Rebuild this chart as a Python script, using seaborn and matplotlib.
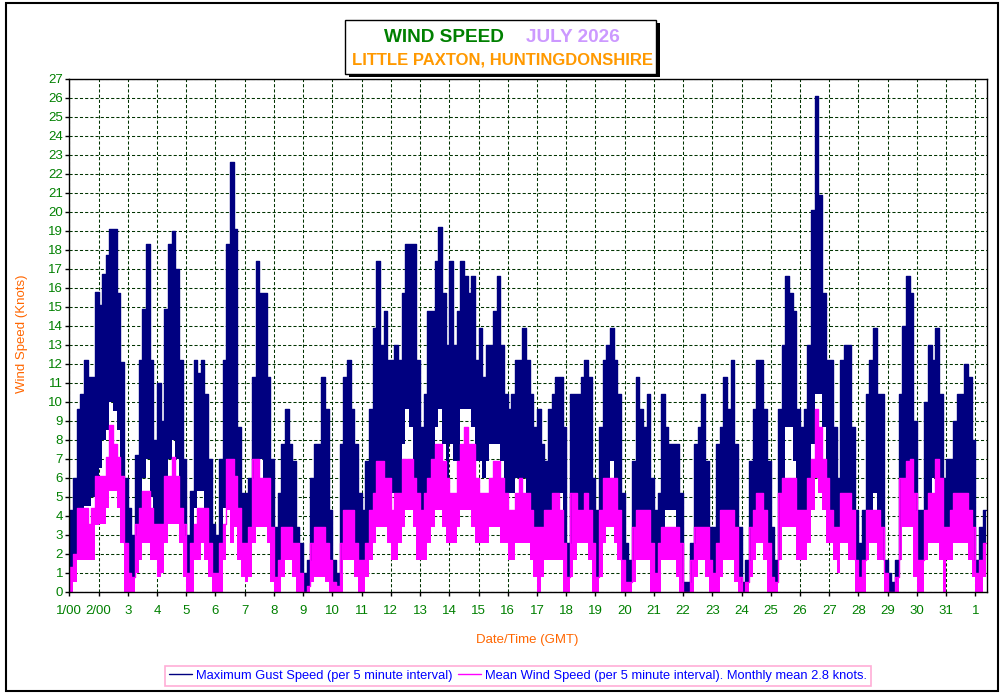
import numpy as np
import pandas as pd
import seaborn as sns
import matplotlib.pyplot as plt
from matplotlib.patches import Rectangle

# 3-hourly envelopes (8 per day, 1 July 00:00 -> 1 Aug 09:00), knots
gust_hi = [
    4.3, 6.0, 9.6, 10.4, 12.2, 11.3, 11.3, 15.8,
    15.1, 16.7, 17.7, 19.1, 19.1, 15.7, 12.1, 6.0,
    4.4, 3.0, 7.2, 12.2, 14.9, 18.3, 12.2, 8.0,
    11.0, 9.0, 14.9, 18.3, 19.0, 17.0, 12.2, 7.0,
    3.0, 5.3, 12.2, 11.5, 12.2, 10.4, 7.0, 3.6,
    3.0, 7.0, 12.2, 18.3, 22.6, 19.1, 8.7, 5.2,
    5.2, 6.0, 11.3, 17.4, 15.7, 15.7, 11.3, 7.0,
    3.4, 5.2, 7.8, 9.6, 7.8, 6.9, 3.4, 2.6,
    1.0, 1.7, 6.0, 7.8, 7.8, 11.3, 9.6, 4.3,
    1.7, 1.0, 7.8, 11.3, 12.2, 9.6, 7.8, 5.2,
    4.3, 6.9, 9.6, 13.9, 17.4, 13.0, 14.8, 12.2,
    12.2, 13.0, 12.2, 15.7, 18.3, 18.3, 18.3, 12.2,
    8.7, 10.4, 14.8, 14.8, 17.4, 19.2, 15.7, 13.0,
    17.4, 13.0, 14.8, 17.4, 16.6, 15.7, 16.6, 12.2,
    13.9, 11.3, 13.0, 13.0, 14.8, 16.6, 13.0, 10.4,
    9.6, 10.4, 12.2, 12.2, 13.9, 12.2, 10.4, 8.7,
    9.6, 7.8, 6.9, 9.6, 10.4, 11.3, 11.3, 8.7,
    2.6, 10.4, 10.4, 10.4, 11.3, 12.2, 11.3, 6.0,
    4.3, 8.7, 12.2, 13.0, 13.9, 12.2, 10.4, 5.2,
    2.6, 1.7, 6.9, 11.3, 9.6, 8.7, 10.4, 6.0,
    4.3, 5.2, 10.4, 8.7, 7.8, 7.8, 7.8, 5.2,
    0.5, 0.5, 2.6, 7.8, 8.7, 10.4, 6.9, 3.4,
    3.4, 7.8, 8.7, 11.3, 9.6, 12.2, 7.8, 3.4,
    0.5, 1.7, 6.9, 9.6, 12.2, 12.2, 9.6, 6.9,
    3.4, 1.7, 9.6, 13.0, 16.6, 15.7, 14.8, 9.6,
    8.7, 9.6, 13.0, 20.1, 26.1, 20.9, 15.7, 12.2,
    12.2, 8.7, 6.0, 12.2, 13.0, 13.0, 8.7, 4.3,
    2.6, 4.3, 10.4, 12.2, 13.9, 10.4, 10.4, 1.7,
    1.0, 0.5, 1.7, 10.4, 14.0, 16.6, 15.7, 9.0,
    4.3, 4.3, 10.0, 13.0, 12.2, 13.9, 10.4, 6.0,
    7.0, 7.0, 9.0, 10.4, 10.4, 12.0, 11.3, 8.0,
    1.7, 3.4, 4.3,
]
gust_lo = [
    1.0, 2.0, 3.5, 4.0, 4.5, 4.5, 5.0, 5.0,
    6.5, 8.0, 8.5, 10.0, 9.5, 8.5, 4.5, 1.0,
    0.0, 0.0, 1.5, 4.4, 6.0, 7.0, 5.0, 2.6,
    2.0, 2.6, 5.3, 7.0, 8.0, 7.0, 4.4, 1.0,
    0.0, 1.0, 4.4, 5.3, 5.3, 4.4, 1.7, 0.0,
    0.0, 1.0, 4.4, 6.0, 7.0, 6.0, 3.0, 1.0,
    0.5, 1.0, 3.4, 6.0, 7.0, 6.0, 4.3, 1.0,
    0.0, 0.5, 2.6, 3.4, 3.4, 2.0, 0.3, 0.0,
    0.0, 0.0, 1.0, 2.6, 3.4, 3.4, 2.6, 0.5,
    0.0, 0.0, 0.8, 3.4, 4.3, 3.4, 2.0, 0.5,
    1.0, 1.7, 3.4, 5.2, 6.9, 6.0, 6.0, 5.2,
    5.2, 5.2, 5.2, 7.8, 9.6, 8.7, 6.0, 4.3,
    3.4, 4.3, 6.0, 6.9, 8.7, 9.6, 7.8, 6.0,
    7.8, 6.9, 6.9, 9.6, 9.6, 9.6, 8.7, 6.9,
    6.9, 6.0, 6.9, 7.8, 7.8, 7.8, 6.9, 5.2,
    5.2, 5.2, 6.0, 6.0, 6.0, 5.2, 4.3, 2.6,
    2.6, 3.4, 3.4, 4.3, 4.3, 4.3, 5.2, 1.0,
    0.0, 1.7, 3.4, 4.3, 4.3, 4.3, 3.4, 0.5,
    0.0, 2.6, 4.3, 6.0, 6.9, 6.0, 3.4, 0.5,
    0.0, 0.0, 1.0, 3.4, 4.3, 4.3, 3.4, 0.5,
    0.5, 1.0, 3.4, 4.3, 4.3, 4.3, 2.6, 0.5,
    0.0, 0.0, 0.0, 1.7, 3.4, 3.4, 1.7, 0.0,
    0.0, 1.0, 1.7, 3.4, 3.4, 3.4, 1.0, 0.0,
    0.0, 0.0, 1.7, 3.4, 4.3, 4.3, 2.6, 0.5,
    0.0, 0.0, 2.6, 6.0, 8.7, 8.7, 6.9, 3.4,
    3.4, 3.4, 5.2, 7.8, 10.4, 10.4, 8.7, 6.0,
    4.3, 3.4, 1.7, 4.3, 5.2, 4.3, 2.6, 0.5,
    0.0, 0.5, 3.4, 4.3, 5.2, 4.3, 2.6, 0.0,
    0.0, 0.0, 0.0, 3.4, 5.2, 6.9, 6.0, 1.7,
    0.0, 0.5, 3.4, 5.2, 6.0, 6.0, 3.4, 0.5,
    2.6, 3.4, 3.4, 5.2, 5.2, 5.2, 4.3, 1.7,
    0.0, 0.0, 1.7,
]
mean_hi = [
    1.3, 2.0, 4.4, 4.4, 4.4, 3.6, 4.4, 6.1,
    6.1, 6.1, 7.1, 8.8, 7.8, 7.1, 6.1, 2.6,
    1.0, 0.8, 3.6, 4.4, 5.3, 5.3, 4.4, 3.6,
    3.6, 3.6, 6.1, 6.1, 7.1, 6.1, 4.4, 3.6,
    1.0, 2.6, 3.6, 4.4, 4.4, 4.4, 2.6, 1.0,
    1.0, 2.6, 3.6, 7.0, 7.0, 6.1, 4.4, 2.6,
    2.6, 3.4, 7.0, 7.0, 6.0, 6.0, 6.0, 3.4,
    0.8, 1.7, 3.4, 3.4, 3.4, 2.6, 2.6, 1.0,
    0.0, 0.3, 2.6, 3.4, 3.4, 3.4, 2.6, 1.7,
    0.5, 0.3, 2.6, 4.3, 4.3, 4.3, 2.6, 1.7,
    1.7, 2.6, 4.3, 5.2, 6.9, 6.9, 6.0, 6.0,
    4.3, 5.2, 5.2, 7.0, 7.0, 7.0, 6.0, 5.2,
    4.3, 5.2, 6.0, 7.0, 7.8, 7.8, 6.9, 6.0,
    5.2, 5.2, 6.9, 7.8, 8.7, 7.8, 7.8, 6.0,
    5.2, 5.2, 5.2, 6.0, 6.9, 6.9, 6.0, 5.2,
    4.3, 4.3, 5.2, 6.0, 5.2, 5.2, 4.3, 3.4,
    3.4, 3.4, 4.3, 4.3, 5.2, 5.2, 4.3, 2.6,
    0.8, 5.2, 5.2, 4.3, 4.3, 5.2, 4.3, 2.6,
    0.8, 4.3, 6.0, 6.0, 6.0, 6.0, 4.3, 1.7,
    0.5, 0.5, 3.4, 4.3, 4.3, 4.3, 4.3, 2.6,
    1.0, 2.6, 3.4, 3.4, 3.4, 3.4, 3.4, 2.6,
    0.0, 0.0, 1.7, 3.4, 3.4, 3.4, 3.4, 1.7,
    1.0, 2.6, 4.3, 4.3, 4.3, 4.3, 3.4, 0.8,
    0.0, 0.5, 3.4, 4.3, 5.2, 5.2, 4.3, 2.6,
    0.8, 0.5, 5.2, 6.0, 6.0, 6.0, 6.0, 4.3,
    4.3, 4.3, 6.0, 7.0, 9.6, 8.7, 7.0, 6.0,
    4.3, 3.4, 3.4, 5.2, 5.2, 5.2, 4.3, 1.7,
    0.8, 1.7, 4.3, 4.3, 4.3, 4.3, 3.4, 1.0,
    0.0, 0.0, 0.8, 6.0, 6.0, 6.9, 7.0, 5.2,
    1.7, 1.7, 4.3, 5.2, 5.2, 7.0, 6.0, 3.4,
    3.4, 4.3, 5.2, 5.2, 5.2, 5.2, 4.3, 3.4,
    1.0, 1.7, 2.6,
]
mean_lo = [
    0.0, 0.5, 1.7, 1.7, 1.7, 1.7, 1.7, 3.5,
    3.6, 3.6, 4.4, 5.3, 5.3, 4.4, 2.6, 0.0,
    0.0, 0.0, 1.0, 1.7, 2.6, 2.6, 1.7, 1.7,
    0.8, 1.0, 2.6, 3.6, 3.6, 3.6, 2.6, 0.8,
    0.0, 0.0, 1.7, 1.7, 2.6, 1.7, 0.8, 0.0,
    0.0, 0.0, 1.7, 4.3, 2.6, 3.4, 1.7, 0.8,
    0.5, 0.8, 2.6, 3.4, 3.4, 3.4, 2.6, 0.5,
    0.0, 0.0, 0.8, 1.7, 1.7, 0.8, 0.0, 0.0,
    0.0, 0.0, 0.5, 0.8, 0.8, 0.8, 0.5, 0.0,
    0.0, 0.0, 0.0, 1.7, 1.7, 1.7, 0.8, 0.0,
    0.0, 0.8, 1.7, 2.6, 3.4, 3.4, 3.4, 2.6,
    1.7, 1.7, 2.6, 3.4, 4.3, 4.3, 3.4, 1.7,
    1.7, 1.7, 2.6, 3.4, 4.3, 4.3, 3.4, 2.6,
    2.6, 2.6, 3.4, 4.3, 4.3, 4.3, 3.4, 2.6,
    2.6, 2.6, 2.6, 3.4, 3.4, 3.4, 2.6, 2.6,
    1.7, 1.7, 2.6, 2.6, 2.6, 2.6, 1.7, 0.8,
    0.0, 0.8, 1.7, 1.7, 1.7, 1.7, 1.7, 0.0,
    0.0, 0.8, 1.7, 2.6, 2.6, 2.6, 1.7, 0.0,
    0.0, 0.8, 2.6, 3.4, 3.4, 2.6, 1.7, 0.0,
    0.0, 0.0, 0.5, 1.7, 1.7, 1.7, 1.7, 0.0,
    0.0, 0.0, 1.7, 1.7, 1.7, 1.7, 0.8, 0.0,
    0.0, 0.0, 0.0, 0.8, 1.7, 1.7, 0.8, 0.0,
    0.0, 0.0, 0.8, 1.7, 1.7, 1.7, 0.5, 0.0,
    0.0, 0.0, 0.8, 1.7, 2.6, 2.6, 1.7, 0.0,
    0.0, 0.0, 1.7, 3.4, 3.4, 3.4, 3.4, 1.7,
    1.7, 1.7, 2.6, 4.3, 6.0, 5.2, 4.3, 2.6,
    2.6, 1.7, 1.0, 2.6, 2.6, 1.7, 1.7, 0.0,
    0.0, 0.0, 1.7, 2.6, 2.6, 1.7, 1.7, 0.0,
    0.0, 0.0, 0.0, 1.7, 3.4, 3.4, 3.4, 0.8,
    0.0, 0.0, 1.7, 2.6, 2.6, 2.6, 1.7, 0.0,
    1.7, 1.7, 2.6, 2.6, 2.6, 2.6, 1.7, 0.8,
    0.0, 0.0, 0.8,
]
day_labels = ['1/00', '2/00'] + [str(d) for d in range(3, 32)] + ['1']

gust_label = 'Maximum Gust Speed (per 5 minute interval)'
mean_label = 'Mean Wind Speed (per 5 minute interval). Monthly mean 2.8 knots.'
navy = '#000080'
magenta = '#FF00FF'
orange_lbl = '#FF6600'
green = '#008000'

n = len(gust_hi)
t = 1 + np.arange(n + 1) / 8


def edge(v):
    return list(v) + [v[-1]]


df = pd.DataFrame({
    't': np.concatenate([t, t]),
    'v': edge(gust_hi) + edge(mean_hi),
    's': [gust_label] * (n + 1) + [mean_label] * (n + 1),
})

sns.set_style('white')
plt.rcParams['font.family'] = ['Liberation Sans', 'DejaVu Sans']

W, H = 1005, 696
fig = plt.figure(figsize=(W / 100, H / 100), dpi=100)
ax = fig.add_axes([69.3 / W, 1 - 592 / H, (986.5 - 69.3) / W, (592 - 78.5) / H])

ax.fill_between(t, edge(gust_lo), edge(gust_hi), step='post', color=navy, lw=0, zorder=1)
ax.fill_between(t, edge(mean_lo), edge(mean_hi), step='post', color=magenta, lw=0, zorder=1.6)
sns.lineplot(data=df, x='t', y='v', hue='s', palette={gust_label: navy, mean_label: magenta},
             drawstyle='steps-post', estimator=None, lw=1, ax=ax)
handles, labels = ax.get_legend_handles_labels()
ax.get_legend().remove()

ax.set_xlim(1, 32.38)
ax.set_ylim(0, 27)
ax.set_xticks(range(1, 33))
ax.set_xticklabels(day_labels)
ax.set_yticks(range(0, 28))
ax.set_xlabel('')
ax.set_ylabel('')
ax.tick_params(bottom=True, left=True, direction='out', length=3, width=1,
               color='black', labelcolor=green, labelsize=9.5)
ax.tick_params(axis='x', pad=6)
ax.tick_params(axis='y', pad=1.5)
ax.grid(True, color='#003300', linestyle=(0, (3, 2)), linewidth=0.75)
ax.set_axisbelow(True)
for sp in ax.spines.values():
    sp.set_color('black')
    sp.set_linewidth(1)

fig.text(22.5 / W, 1 - 334 / H, 'Wind Speed (Knots)', rotation=90, ha='center', va='center',
         color=orange_lbl, fontsize=9.5)
fig.text(527 / W, 1 - 640 / H, 'Date/Time (GMT)', ha='center', va='center',
         color=orange_lbl, fontsize=9.5)

# title box with shadow
fig.add_artist(Rectangle((349 / W, 1 - 77 / H), 311 / W, 54 / H, transform=fig.transFigure,
                         facecolor='black', edgecolor='none'))
fig.add_artist(Rectangle((345 / W, 1 - 73.5 / H), 311 / W, 54 / H, transform=fig.transFigure,
                         facecolor='white', edgecolor='black', lw=1))
fig.text(443.5 / W, 1 - 42.3 / H, 'WIND SPEED', ha='center', va='baseline',
         color=green, fontsize=13.7, fontweight='bold')
fig.text(573 / W, 1 - 42.3 / H, 'JULY 2026', ha='center', va='baseline',
         color='#CC99FF', fontsize=13.7, fontweight='bold')
fig.text(502 / W, 1 - 64.3 / H, 'LITTLE PAXTON, HUNTINGDONSHIRE', ha='center', va='baseline',
         color='#FF9900', fontsize=12, fontweight='bold')

leg = fig.legend(handles, labels, loc='center', bbox_to_anchor=(518 / W, 1 - 675.8 / H), ncol=2,
                 frameon=True, fancybox=False, edgecolor='#FF99CC', fontsize=9.3,
                 handlelength=1.75, handletextpad=0.3, columnspacing=0.5, borderpad=0.3,
                 labelcolor='#0000FF')
leg.get_frame().set_linewidth(1.2)

# outer chart border
fig.add_artist(Rectangle((5.5 / W, 1 - 691 / H), 992.5 / W, 688 / H, transform=fig.transFigure,
                         fill=False, edgecolor='black', lw=1.5))

fig.savefig('out.png', dpi=100)
